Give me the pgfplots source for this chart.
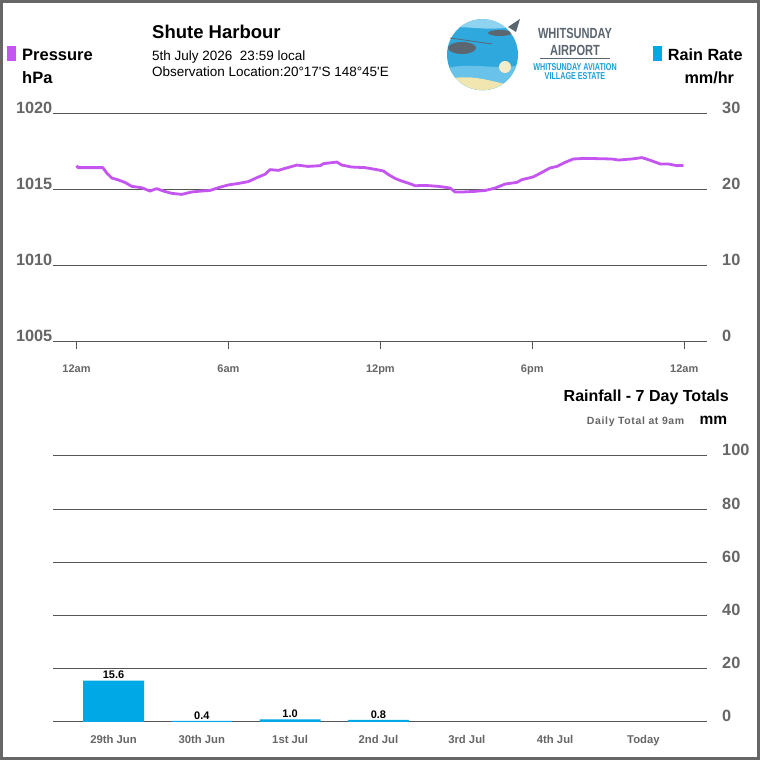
\documentclass[border=0pt]{standalone}
\usepackage{fontspec}
\setmainfont{Liberation Sans}
\usepackage{pgfplots}
\pgfplotsset{compat=1.18}
\usepackage{graphicx}

\definecolor{presscol}{HTML}{C455F0}
\definecolor{raincol}{HTML}{00A8E6}
\definecolor{gridcol}{HTML}{555555}
\definecolor{labcol}{HTML}{666666}
\definecolor{framecol}{HTML}{666666}
\definecolor{logogray}{HTML}{5B6670}
\definecolor{logoblue}{HTML}{1E9FD8}
\definecolor{logosea}{HTML}{2FA8DE}
\definecolor{logolight}{HTML}{8ED3F0}
\definecolor{logosand}{HTML}{F2E6B0}

\begin{document}
\begin{tikzpicture}[x=1bp,y=1bp]
\path[use as bounding box] (0,0) rectangle (760,760);
\fill[white] (0,0) rectangle (760,760);
\draw[framecol, line width=2.6bp] (1.3,1.3) rectangle (758.7,758.7);

% ---------- header texts ----------
\fill[presscol] (7,699) rectangle (16,714.3);
\node[anchor=base west, inner sep=0pt, font=\bfseries\fontsize{16.5bp}{19bp}\selectfont] at (22,699) {Pressure};
\node[anchor=base west, inner sep=0pt, font=\bfseries\fontsize{16.5bp}{19bp}\selectfont] at (22,676.7) {hPa};

\node[anchor=base west, inner sep=0pt, font=\bfseries\fontsize{18.5bp}{22bp}\selectfont] at (152,721.5) {Shute Harbour};
\node[anchor=base west, inner sep=0pt, font=\fontsize{13.5bp}{16bp}\selectfont] at (152,699.5) {5th July 2026\ \ 23:59 local};
\node[anchor=base west, inner sep=0pt, font=\fontsize{13.5bp}{16bp}\selectfont] at (152,683.5) {Observation Location:20°17\textquotesingle S 148°45\textquotesingle E};

\fill[raincol] (652.7,699) rectangle (661.7,714.3);
\node[anchor=base west, inner sep=0pt, font=\bfseries\fontsize{16.2bp}{19bp}\selectfont] at (667.7,699) {Rain Rate};
\node[anchor=base west, inner sep=0pt, font=\bfseries\fontsize{16.2bp}{19bp}\selectfont] at (684.3,676.7) {mm/hr};

% ---------- logo ----------
\begin{scope}
\clip (482.5,705.3) circle (35.5);
\fill[logosea] (440,660) rectangle (525,745);
\fill[logolight] (440,730) .. controls (465,738) and (485,725) .. (525,736) -- (525,745) -- (440,745) -- cycle;
\fill[logolight!60!logosea] (440,690) .. controls (470,700) and (495,688) .. (525,696) -- (525,660) -- (440,660) -- cycle;
\fill[logosand] (440,678) .. controls (470,690) and (495,676) .. (525,672) -- (525,660) -- (440,660) -- cycle;
\fill[logogray] (462,712) ellipse (14 and 6);
\fill[logogray] (500,727) ellipse (12 and 3);
\fill[logosand!70!white] (505,693) circle (6);
\end{scope}
\draw[logogray, line width=0.8bp] (450,722) -- (492,716);
\fill[logogray] (508,733) -- (520,741) -- (516,728) -- cycle;
\node[anchor=base, inner sep=0pt, text=logogray, font=\bfseries\fontsize{14bp}{15bp}\selectfont] at (575,721) {\scalebox{0.79}[1.05]{WHITSUNDAY}};
\node[anchor=base, inner sep=0pt, text=logogray, font=\bfseries\fontsize{14bp}{15bp}\selectfont] at (575,704.5) {\scalebox{0.79}[1.05]{AIRPORT}};
\draw[logogray, line width=1bp] (540,701) -- (610,701);
\node[anchor=base, inner sep=0pt, text=logoblue, font=\bfseries\fontsize{10bp}{11bp}\selectfont] at (575,689.3) {\scalebox{0.72}[1]{WHITSUNDAY AVIATION}};
\node[anchor=base, inner sep=0pt, text=logoblue, font=\bfseries\fontsize{10bp}{11bp}\selectfont] at (575,680) {\scalebox{0.72}[1]{VILLAGE ESTATE}};

% ---------- pressure chart ----------
\begin{axis}[
  at={(53bp,418bp)}, anchor=south west, scale only axis,
  width=654bp, height=228bp,
  xmin=-0.93, xmax=24.9, ymin=1005, ymax=1020,
  axis line style={draw=none},
  xtick={0,6,12,18,24},
  xticklabels={12am,6am,12pm,6pm,12am},
  xtick pos=bottom, tick align=outside,
  xtick style={draw=gridcol, line width=0.8bp},
  major tick length=7bp,
  ytick={1005,1010,1015,1020},
  yticklabels={1005,1010,1015,1020},
  ytick pos=left,
  ytick style={draw=none},
  ymajorgrids, grid style={draw=gridcol, line width=1bp},
  yticklabel style={anchor=base east, inner sep=0pt, xshift=6.5bp, text=labcol, font=\bfseries\fontsize{16.3bp}{19bp}\selectfont},
  xticklabel style={anchor=base, inner sep=0pt, yshift=-23.3bp, text=labcol, font=\bfseries\fontsize{11bp}{13bp}\selectfont},
  clip=false,
]
\addplot[presscol, line width=2.8bp, line join=round] table {
h p
0.00 1016.60
0.06 1016.47
1.04 1016.47
1.19 1016.12
1.39 1015.79
1.65 1015.66
1.91 1015.50
2.18 1015.24
2.57 1015.15
2.90 1014.93
3.16 1015.09
3.43 1014.93
3.76 1014.78
4.15 1014.71
4.55 1014.87
4.94 1014.93
5.27 1014.97
5.60 1015.15
5.99 1015.33
6.39 1015.43
6.78 1015.55
7.12 1015.81
7.44 1016.03
7.64 1016.34
7.97 1016.29
8.23 1016.42
8.70 1016.64
9.15 1016.55
9.62 1016.60
9.75 1016.73
10.28 1016.84
10.47 1016.64
10.87 1016.51
11.39 1016.47
11.79 1016.36
12.12 1016.25
12.32 1016.01
12.58 1015.76
12.84 1015.59
13.17 1015.41
13.37 1015.28
13.77 1015.30
14.29 1015.24
14.75 1015.13
14.95 1014.87
15.28 1014.87
15.74 1014.91
16.14 1014.97
16.50 1015.11
16.93 1015.39
17.39 1015.50
17.59 1015.68
18.04 1015.86
18.38 1016.16
18.70 1016.45
18.97 1016.55
19.30 1016.82
19.62 1017.04
20.09 1017.08
20.61 1017.06
21.14 1017.04
21.40 1016.97
21.93 1017.04
22.33 1017.13
22.66 1016.95
23.06 1016.71
23.38 1016.71
23.71 1016.60
23.97 1016.62
};
\end{axis}

\begin{axis}[
  at={(53bp,418bp)}, anchor=south west, scale only axis,
  width=654bp, height=228bp,
  xmin=-0.93, xmax=24.9, ymin=0, ymax=30,
  axis line style={draw=none},
  hide x axis,
  ytick={0,10,20,30},
  yticklabels={0,10,20,30},
  ytick pos=right, yticklabel pos=right,
  ytick style={draw=none},
  yticklabel style={anchor=base west, inner sep=0pt, xshift=15bp, text=labcol, font=\bfseries\fontsize{16.3bp}{19bp}\selectfont},
]
\addplot[draw=none] coordinates {(0,0)};
\end{axis}

% ---------- rainfall titles ----------
\node[anchor=base east, inner sep=0pt, font=\bfseries\fontsize{16bp}{19bp}\selectfont] at (729,358.3) {Rainfall - 7 Day Totals};
\node[anchor=base east, inner sep=0pt, text=labcol, font=\bfseries\fontsize{10.5bp}{12bp}\selectfont\addfontfeature{LetterSpace=6}] at (684.5,335.3) {Daily Total at 9am};
\node[anchor=base west, inner sep=0pt, font=\bfseries\fontsize{15.5bp}{18bp}\selectfont] at (699.5,335.5) {mm};

% ---------- rainfall chart ----------
\begin{axis}[
  at={(53bp,38bp)}, anchor=south west, scale only axis,
  width=654bp, height=266bp,
  xmin=-0.685, xmax=6.72, ymin=0, ymax=100,
  axis line style={draw=none},
  ybar, bar width=61bp,
  xtick={0,1,2,3,4,5,6},
  xticklabels={29th Jun,30th Jun,1st Jul,2nd Jul,3rd Jul,4th Jul,Today},
  xtick pos=bottom, major tick length=0pt,
  xtick style={draw=none},
  ytick={0,20,40,60,80,100},
  yticklabels={0,20,40,60,80,100},
  ytick pos=right, yticklabel pos=right,
  ytick style={draw=none},
  ymajorgrids, grid style={draw=gridcol, line width=1bp},
  yticklabel style={anchor=base west, inner sep=0pt, xshift=15bp, text=labcol, font=\bfseries\fontsize{16.3bp}{19bp}\selectfont},
  xticklabel style={anchor=base, inner sep=0pt, yshift=-22bp, text=labcol, font=\bfseries\fontsize{11.3bp}{13bp}\selectfont},
  nodes near coords,
  every node near coord/.append style={anchor=south, inner sep=1.5bp, text=black, font=\bfseries\fontsize{11bp}{13bp}\selectfont},
  /pgf/number format/.cd, fixed, fixed zerofill, precision=1, assume math mode=true,
]
\addplot[fill=raincol, draw=none] coordinates {(0,15.6) (1,0.4) (2,1.0) (3,0.8)};
\end{axis}
\end{tikzpicture}
\end{document}
